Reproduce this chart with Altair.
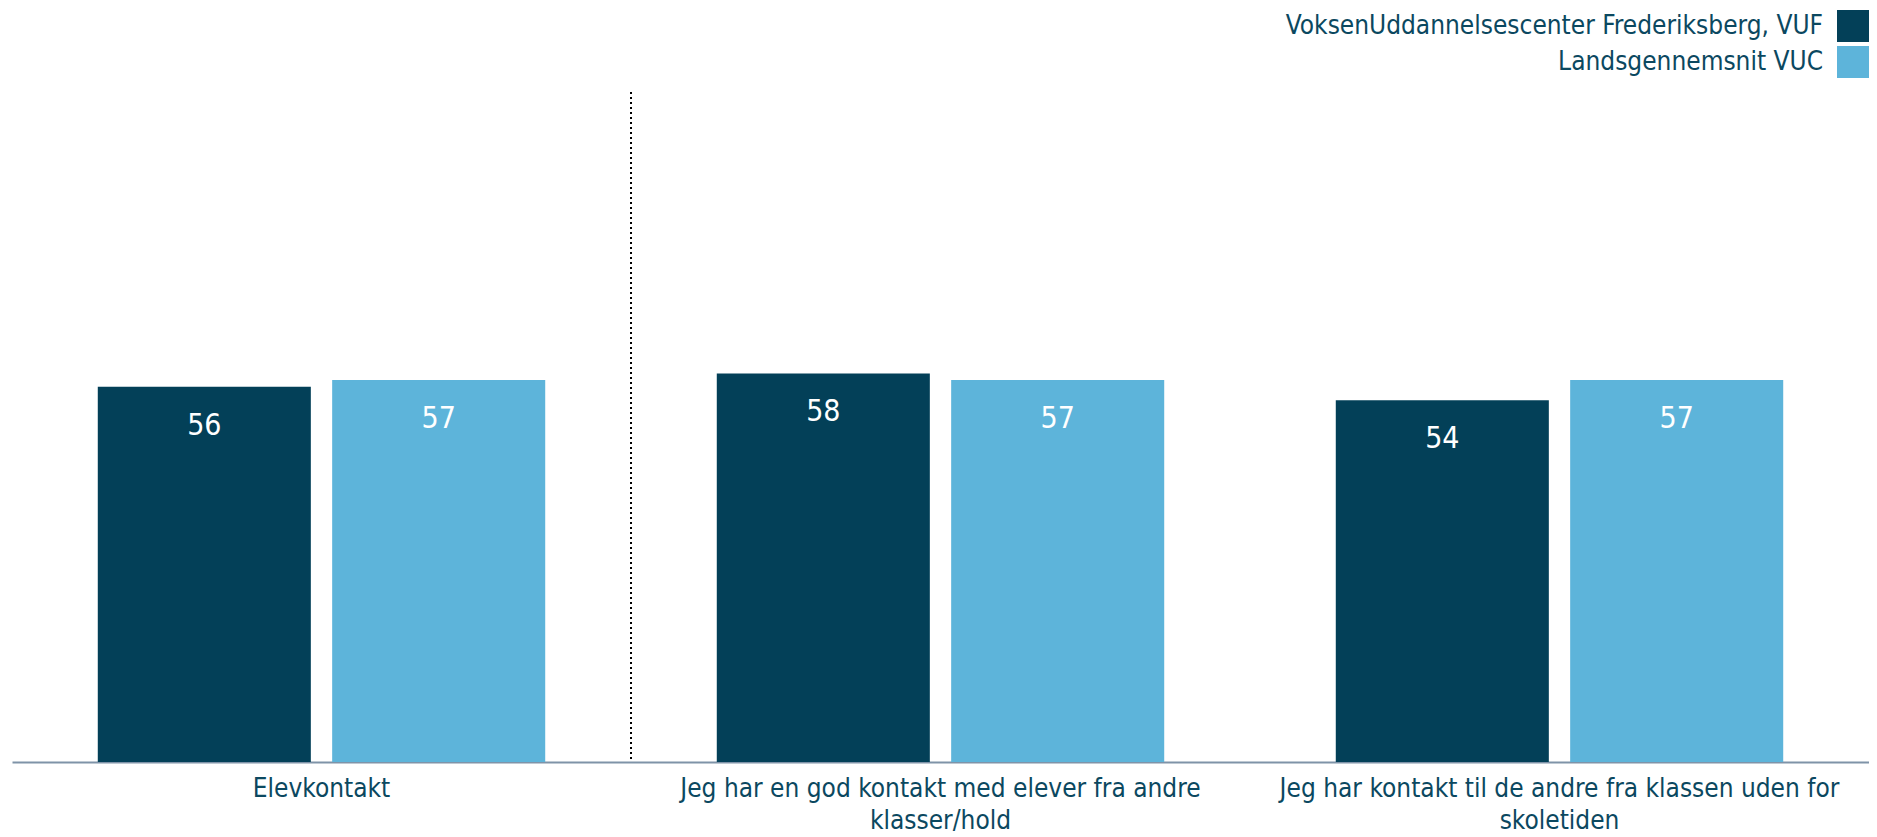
import altair as alt
import pandas as pd

categories = [
    "Elevkontakt",
    "Jeg har en god kontakt med elever fra andre klasser/hold",
    "Jeg har kontakt til de andre fra klassen uden for skoletiden",
]
label_lines = [
    ["Elevkontakt"],
    ["Jeg har en god kontakt med elever fra andre", "klasser/hold"],
    ["Jeg har kontakt til de andre fra klassen uden for", "skoletiden"],
]
series = ["VoksenUddannelsescenter Frederiksberg, VUF", "Landsgennemsnit VUC"]
vuf_values = [56, 58, 54]
vuc_values = [57, 57, 57]
colors = ["#034058", "#5db4da"]
separator_after = [categories[1]]

rows = []
for c, a, b in zip(categories, vuf_values, vuc_values):
    rows.append({"category": c, "series": series[0], "value": a})
    rows.append({"category": c, "series": series[1], "value": b})
df = pd.DataFrame(rows)
sep_df = pd.DataFrame({"category": separator_after})

FONT = "DejaVu Sans Condensed, Noto Sans, sans-serif"
TXT = "#0b4860"

# label expression: map each category to its lines
parts = []
for c, lines in zip(categories, label_lines):
    arr = "[" + ",".join("'" + l + "'" for l in lines) + "]"
    parts.append(f"datum.value == '{c}' ? {arr}")
label_expr = " : ".join(parts) + " : datum.label"

x_enc = alt.X(
    "category:N",
    sort=categories,
    scale=alt.Scale(paddingInner=0, paddingOuter=0),
    axis=alt.Axis(
        title=None,
        labelAngle=0,
        labelExpr=label_expr,
        labelFontSize=26,
        labelFont=FONT,
        labelColor=TXT,
        labelLineHeight=32,
        labelPadding=13,
        labelLimit=0,
        ticks=False,
        domainColor="#7f93a8",
        domainWidth=2,
        grid=False,
    ),
)
y_enc = alt.Y("value:Q", scale=alt.Scale(domain=[0, 100], nice=False), axis=None)
xoff = alt.XOffset("series:N", sort=series, scale=alt.Scale(paddingInner=0.091, paddingOuter=0.366))

bars = alt.Chart(df).mark_bar().encode(
    x=x_enc,
    xOffset=xoff,
    y=y_enc,
    color=alt.Color(
        "series:N",
        sort=series,
        scale=alt.Scale(domain=series, range=colors),
        legend=alt.Legend(
            title=None,
            orient="none",
            legendX=1825,
            legendY=-82,
            symbolType="square",
            symbolSize=1024,
            symbolStrokeWidth=0,
            symbolOpacity=1,
            labelAlign="right",
            labelOffset={"expr": "-46"},
            labelFontSize=26,
            labelFont=FONT,
            labelColor=TXT,
            labelLimit=0,
            rowPadding=4,
            padding=0,
        ),
    ),
)

texts = alt.Chart(df).mark_text(
    baseline="top", dy=24, fontSize=30, font=FONT, color="white"
).encode(
    x=alt.X("category:N", sort=categories),
    xOffset=xoff,
    y=y_enc,
    text=alt.Text("value:Q"),
)

sep = alt.Chart(sep_df).mark_rule(color="black", strokeDash=[2, 3], strokeWidth=2).encode(
    x=alt.X("category:N", sort=categories, bandPosition=0),
)

chart = (
    alt.layer(bars, texts, sep)
    .properties(width=1857, height=670, padding={"top": 2, "left": 4, "right": 0, "bottom": 0})
    .configure_view(stroke=None)
)

chart.save("out.html", embed_options={"renderer": "svg", "actions": False})
